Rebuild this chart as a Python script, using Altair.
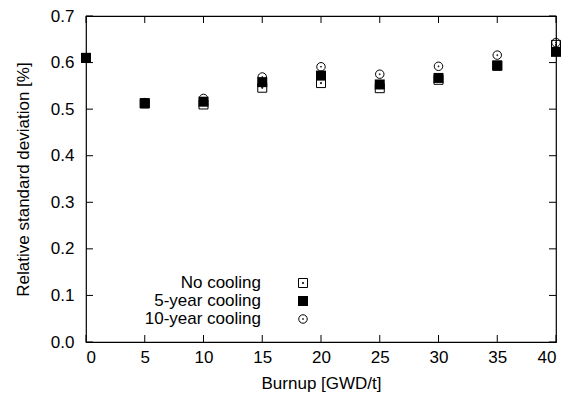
import altair as alt
import pandas as pd

burnup = [0, 5, 10, 15, 20, 25, 30, 35, 40]
no_cooling = [0.61, 0.512, 0.510, 0.546, 0.556, 0.545, 0.563, 0.593, 0.638]
five_year = [0.61, 0.513, 0.516, 0.558, 0.572, 0.553, 0.567, 0.594, 0.623]
ten_year = [0.61, 0.514, 0.523, 0.569, 0.591, 0.575, 0.592, 0.616, 0.643]
series_names = ["No cooling", "5-year cooling", "10-year cooling"]
x_ticks = [0, 5, 10, 15, 20, 25, 30, 35, 40]
y_ticks = [0.0, 0.1, 0.2, 0.3, 0.4, 0.5, 0.6, 0.7]

W, H = 470, 326
FONT = "Liberation Sans"
FS = 17

SQ_DOT = "M-1,-1H1V1H-1Z M-0.12,-0.12H0.12V0.12H-0.12Z"
SQ = "M-1,-1H1V1H-1Z"
CI_DOT = ("M-1,0A1,1 0 1,0 1,0A1,1 0 1,0 -1,0Z "
          "M-0.12,0A0.12,0.12 0 1,0 0.12,0A0.12,0.12 0 1,0 -0.12,0Z")

rows = []
for s, vals in zip(series_names, [no_cooling, five_year, ten_year]):
    for b, v in zip(burnup, vals):
        rows.append({"burnup": b, "value": v, "series": s})
df = pd.DataFrame(rows)

xs = alt.Scale(domain=[0, 40], nice=False)
ys = alt.Scale(domain=[0, 0.7], nice=False)

x_enc = alt.X("burnup:Q", scale=xs,
              axis=alt.Axis(values=x_ticks, title="Burnup [GWD/t]", ticks=False, domain=False,
                            grid=False, labelPadding=7, titlePadding=10))
y_enc = alt.Y("value:Q", scale=ys,
              axis=alt.Axis(values=y_ticks, format=".1f", title="Relative standard deviation [%]",
                            ticks=False, domain=False, grid=False, labelPadding=12, titlePadding=18))

styles = {
    "No cooling": dict(shape=SQ_DOT, filled=False, size=81),
    "5-year cooling": dict(shape=SQ, filled=True, size=100),
    "10-year cooling": dict(shape=CI_DOT, filled=False, size=72),
}

layers = []
for s in series_names:
    st = styles[s]
    m = alt.Chart(df[df.series == s]).mark_point(
        shape=st["shape"], filled=st["filled"], size=st["size"],
        color="black", strokeWidth=1, opacity=1,
    ).encode(x=x_enc, y=y_enc)
    layers.append(m)

# inside ticks
tx = pd.DataFrame({"t": x_ticks})
ty = pd.DataFrame({"t": y_ticks})
TL = 7
bot_ticks = alt.Chart(tx).mark_rule(color="black").encode(
    x=alt.X("t:Q", scale=xs), y=alt.value(H), y2=alt.value(H - TL))
top_ticks = alt.Chart(tx).mark_rule(color="black").encode(
    x=alt.X("t:Q", scale=xs), y=alt.value(0), y2=alt.value(TL))
left_ticks = alt.Chart(ty).mark_rule(color="black").encode(
    y=alt.Y("t:Q", scale=ys), x=alt.value(0), x2=alt.value(TL))
right_ticks = alt.Chart(ty).mark_rule(color="black").encode(
    y=alt.Y("t:Q", scale=ys), x=alt.value(W), x2=alt.value(W - TL))

# manual legend
leg_y = [267, 285, 303]
for s, yy in zip(series_names, leg_y):
    st = styles[s]
    ld = pd.DataFrame({"label": [s]})
    layers.append(alt.Chart(ld).mark_text(align="right", baseline="middle", font=FONT,
                                          fontSize=FS, color="black").encode(
        text="label:N", x=alt.value(175), y=alt.value(yy)))
    layers.append(alt.Chart(ld).mark_point(shape=st["shape"], filled=st["filled"],
                                           size=st["size"], color="black", strokeWidth=1,
                                           opacity=1).encode(
        x=alt.value(217), y=alt.value(yy)))

chart = alt.layer(bot_ticks, top_ticks, left_ticks, right_ticks, *layers).properties(
    width=W, height=H,
    background="white",
    autosize=alt.AutoSizeParams(type="none"),
    padding={"left": 86, "top": 16, "right": 7, "bottom": 61},
).configure_view(stroke="black", strokeWidth=1.2).configure_axis(
    labelFont=FONT, titleFont=FONT, labelFontSize=FS, titleFontSize=FS,
    labelColor="black", titleColor="black", titleFontWeight="normal"
)

chart.save("out.html", embed_options={"renderer": "svg", "actions": False})
